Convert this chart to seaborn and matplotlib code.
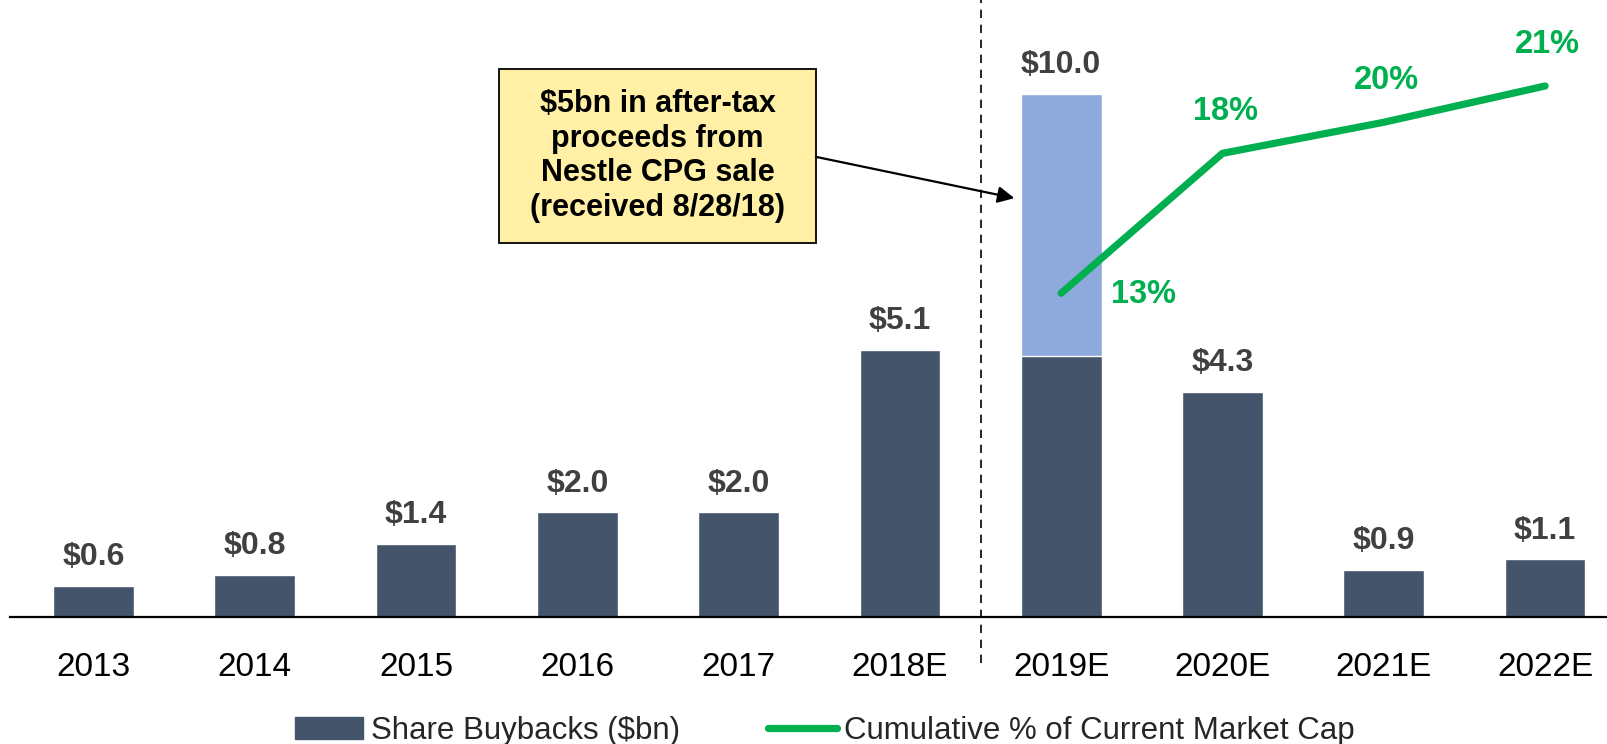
import matplotlib
matplotlib.use("Agg")
import matplotlib.pyplot as plt
import seaborn as sns
import pandas as pd
from matplotlib.patches import Patch, Rectangle
from matplotlib.lines import Line2D

# Data
years = ['2013', '2014', '2015', '2016', '2017', '2018E',
         '2019E', '2020E', '2021E', '2022E']
buybacks = [0.6, 0.8, 1.4, 2.0, 2.0, 5.1, 5.0, 4.3, 0.9, 1.1]   # base (dark) part
nestle = [0, 0, 0, 0, 0, 0, 5.0, 0, 0, 0]                       # proceeds from Nestle sale
line_years = ['2019E', '2020E', '2021E', '2022E']
cum_pct = [13.0, 18.4, 19.6, 21.0]

DARK = '#44546A'
LIGHT = '#8EA9DB'
GREEN = '#00B050'
GREY = '#404040'

df = pd.DataFrame({'year': years, 'base': buybacks, 'nestle': nestle})
df['total'] = df['base'] + df['nestle']

sns.set_style("white")
plt.rcParams['font.family'] = ['Liberation Sans', 'DejaVu Sans']

fig = plt.figure(figsize=(16.08, 7.44), dpi=100)
ax = fig.add_axes([0.0064, 0.1707, 0.9936, 0.8293])

# stacked bars: total in light blue, base in dark on top
sns.barplot(data=df, x='year', y='total', color=LIGHT, saturation=1, width=0.5, ax=ax)
sns.barplot(data=df, x='year', y='base', color=DARK, saturation=1, width=0.5, ax=ax)

ax.set_xlim(-0.515, 9.39)
ax.set_ylim(0, 11.8)
ax.set_xlabel('')
ax.set_ylabel('')
ax.set_yticks([])
for s in ['top', 'right', 'left']:
    ax.spines[s].set_visible(False)
ax.spines['bottom'].set_color('black')
ax.spines['bottom'].set_linewidth(1.6)
ax.tick_params(axis='x', length=0, pad=25, labelsize=24, labelcolor='black')

# value labels on bars
for i, tot in enumerate(df['total']):
    ax.annotate(f'${tot:.1f}', (i, tot), xytext=(0, 10), textcoords='offset points',
                ha='center', va='bottom', fontsize=23, fontweight='bold', color=GREY)

# dashed divider between actuals and estimates
ax.axvline(5.5, ymin=-0.075, ymax=1, color='black', lw=1.2, ls=(0, (5, 4)), clip_on=False)

# cumulative % line on secondary axis
ax2 = ax.twinx()
xpos = [years.index(y) for y in line_years]
sns.lineplot(x=xpos, y=cum_pct, ax=ax2, color=GREEN, lw=5.2, solid_capstyle='round')
ax2.set_ylim(0.5, 24.32)
ax2.set_xlim(-0.515, 9.39)
ax2.set_yticks([])
ax2.set_ylabel('')
for s in ax2.spines.values():
    s.set_visible(False)

for k, (x, v) in enumerate(zip(xpos, cum_pct)):
    off = (59, -1) if k == 0 else (2, 30)
    ax2.annotate(f'{v:.0f}%', (x, v), xytext=off, textcoords='offset points',
                 ha='center', va='center', fontsize=23.5, fontweight='bold', color=GREEN)

# callout box with arrow
box = Rectangle((2.515, 7.15), 4.48 - 2.515, 10.48 - 7.15, facecolor='#FFF0A5',
                edgecolor='black', lw=1.3, zorder=5, clip_on=False)
ax.add_patch(box)
ax.text((2.515 + 4.48) / 2, (7.15 + 10.48) / 2,
        '$5bn in after-tax\nproceeds from\nNestle CPG sale\n(received 8/28/18)',
        ha='center', va='center', fontsize=22, fontweight='bold', color='black',
        linespacing=1.2, zorder=6)
ax.annotate('', xy=(5.71, 8.01), xytext=(4.48, 8.8),
            arrowprops=dict(arrowstyle='-|>', color='black', lw=1.6,
                            mutation_scale=25, shrinkA=0, shrinkB=0), zorder=6)

# legend
handles = [Patch(facecolor=DARK, edgecolor=DARK),
           Line2D([0], [0], color=GREEN, lw=5.2, solid_capstyle='round')]
labels = ['Share Buybacks ($bn)', 'Cumulative % of Current Market Cap']
fig.legend(handles, labels, loc='center', bbox_to_anchor=(0.513, 0.018), ncol=2,
           frameon=False, fontsize=22.5, handlelength=2.2, handletextpad=0.25,
           columnspacing=2.8)

fig.savefig('out.png', dpi=100)
